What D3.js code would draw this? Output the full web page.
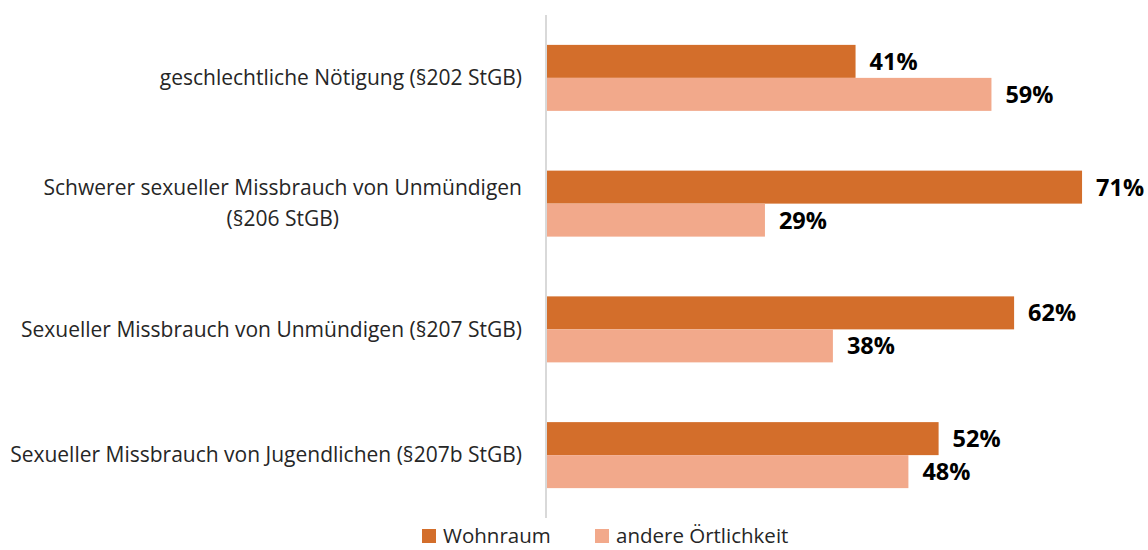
<!DOCTYPE html>
<html>
<head>
<meta charset="utf-8">
<script src="https://cdn.jsdelivr.net/npm/d3@7"></script>
<style>
  body { margin: 0; background: #fff; }
  text { font-family: "Open Sans", sans-serif; }
</style>
</head>
<body>
<svg id="chart" width="1148" height="550"></svg>
<script>
// data
const categories = [
  "geschlechtliche Nötigung (§202 StGB)",
  "Schwerer sexueller Missbrauch von Unmündigen|(§206 StGB)",
  "Sexueller Missbrauch von Unmündigen (§207 StGB)",
  "Sexueller Missbrauch von Jugendlichen (§207b StGB)"
]
const series = ["Wohnraum", "andere Örtlichkeit"]
const wohnraum = [41, 71, 62, 52]
const andere = [59, 29, 38, 48]
const colors = ["#D36E2B", "#F2A98B"]

const svg = d3.select("#chart")
const axisX = 546

const x = d3.scaleLinear().domain([0, 100]).range([axisX, axisX + 755])
const y0 = d3.scaleBand().domain(categories).range([15, 518]).padding(0)
const y1 = d3.scaleBand().domain(series).range([0, 66])
const color = d3.scaleOrdinal().domain(series).range(colors)

let rows = categories.map((c, i) => ({
  cat: c,
  vals: [{ s: series[0], v: wohnraum[i] }, { s: series[1], v: andere[i] }]
}))

let g = svg.selectAll(".grp").data(rows).enter().append("g").classed("grp", true)
  .attr("transform", d => `translate(0,${y0(d.cat) + (y0.bandwidth() - 66) / 2})`)

g.selectAll("rect").data(d => d.vals).enter().append("rect")
  .attr("x", x(0))
  .attr("y", d => y1(d.s))
  .attr("width", d => x(d.v) - x(0))
  .attr("height", y1.bandwidth())
  .style("fill", d => color(d.s))

g.selectAll(".val").data(d => d.vals).enter().append("text").classed("val", true)
  .attr("x", d => x(d.v) + 14)
  .attr("y", d => y1(d.s) + y1.bandwidth() / 2)
  .attr("dy", "0.36em")
  .style("font-size", "23.5px")
  .style("font-weight", "bold")
  .style("fill", "#000")
  .text(d => d.v + "%")

// category labels
svg.selectAll(".lab").data(categories).enter().append("text").classed("lab", true)
  .style("font-size", "21px")
  .style("fill", "#262626")
  .each(function(d) {
    let lines = d.split("|")
    let t = d3.select(this)
    let cy = y0(d) + y0.bandwidth() / 2
    if (lines.length == 1) {
      t.attr("text-anchor", "end").attr("x", 522).attr("y", cy).attr("dy", "0.35em").text(lines[0])
    } else {
      t.attr("text-anchor", "middle")
      lines.forEach((l, i) => {
        t.append("tspan").attr("x", 0).attr("y", cy + (i - (lines.length - 1) / 2) * 31).attr("dy", "0.35em").text(l)
      })
      let w = d3.max(t.selectAll("tspan").nodes(), n => n.getComputedTextLength())
      t.selectAll("tspan").attr("x", 522 - w / 2)
    }
  })

// axis line
svg.append("line")
  .attr("x1", axisX).attr("x2", axisX)
  .attr("y1", 15).attr("y2", 518)
  .style("stroke", "#D9D9D9").style("stroke-width", 2)

// legend
let legX = [422, 595]
let leg = svg.selectAll(".leg").data(series).enter().append("g").classed("leg", true)
  .attr("transform", (d, i) => `translate(${legX[i]},529)`)
leg.append("rect").attr("width", 14).attr("height", 14).style("fill", d => color(d))
leg.append("text").attr("x", 21).attr("y", 7).attr("dy", "0.36em")
  .style("font-size", "20.5px").style("fill", "#262626").text(d => d)
</script>
</body>
</html>
